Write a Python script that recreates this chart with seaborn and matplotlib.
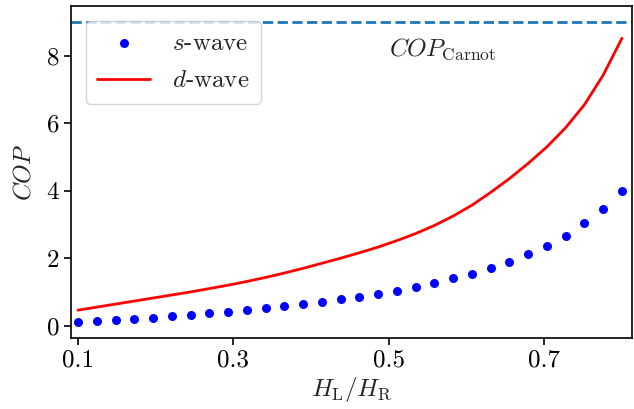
import numpy as np
import pandas as pd
import matplotlib
matplotlib.use("Agg")
import matplotlib.pyplot as plt
import seaborn as sns

# ---- data ----
ratio = [0.1000, 0.1241, 0.1483, 0.1724, 0.1966, 0.2207, 0.2448, 0.2690, 0.2931, 0.3172,
         0.3414, 0.3655, 0.3897, 0.4138, 0.4379, 0.4621, 0.4862, 0.5103, 0.5345, 0.5586,
         0.5828, 0.6069, 0.6310, 0.6552, 0.6793, 0.7034, 0.7276, 0.7517, 0.7759, 0.8000]
cop_s = [0.11, 0.14, 0.17, 0.21, 0.24, 0.28, 0.32, 0.37, 0.41, 0.46,
         0.52, 0.58, 0.64, 0.70, 0.78, 0.86, 0.95, 1.04, 1.15, 1.26,
         1.40, 1.54, 1.71, 1.90, 2.12, 2.37, 2.67, 3.03, 3.47, 4.00]
cop_d = [0.46, 0.55, 0.64, 0.73, 0.82, 0.91, 1.00, 1.10, 1.20, 1.31,
         1.43, 1.56, 1.70, 1.85, 2.00, 2.16, 2.33, 2.52, 2.73, 2.97,
         3.25, 3.57, 3.95, 4.36, 4.81, 5.30, 5.87, 6.55, 7.43, 8.52]
cop_carnot = 9.0
xticks = [0.1, 0.3, 0.5, 0.7]
yticks = [0, 2, 4, 6, 8]

df = pd.DataFrame({"ratio": ratio, "s": cop_s, "d": cop_d})

sns.set_style("ticks")
FS = 18
plt.rcParams.update({
    "font.family": ["cmr10", "DejaVu Sans"],
    "mathtext.fontset": "cm",
    "axes.formatter.use_mathtext": True,
    "font.size": FS,
    "axes.linewidth": 1.2,
    "xtick.major.width": 1.2,
    "ytick.major.width": 1.2,
    "xtick.major.size": 5,
    "ytick.major.size": 5,
    "xtick.color": "black",
    "ytick.color": "black",
    "axes.edgecolor": "black",
})

fig = plt.figure(figsize=(6.34, 4.09), dpi=100)
ax = fig.add_axes([0.112, 0.174, 0.885, 0.811])

ax.axhline(cop_carnot, color="#1f77b4", linestyle="--", linewidth=2)
sns.scatterplot(data=df, x="ratio", y="s", ax=ax, color="blue", s=42,
                linewidth=0, label=r"$s$-wave", zorder=3)
sns.lineplot(data=df, x="ratio", y="d", ax=ax, color="red", linewidth=2,
             label=r"$d$-wave")

ax.text(0.5, 8.2, r"$COP_{\mathrm{Carnot}}$", fontsize=FS, va="center", ha="left")

ax.set_xlim(0.091, 0.813)
ax.set_ylim(-0.36, 9.47)
ax.set_xticks(xticks)
ax.set_xticklabels([f"{t:.1f}" for t in xticks])
ax.set_yticks(yticks)
ax.set_yticklabels([str(t) for t in yticks])
ax.tick_params(labelsize=FS)
ax.set_xlabel(r"$H_{\mathrm{L}}/H_{\mathrm{R}}$", fontsize=FS, labelpad=2)
ax.set_ylabel(r"$COP$", fontsize=FS, labelpad=8)

leg = ax.legend(loc="upper left", fontsize=FS, frameon=True, fancybox=True,
                handlelength=2.1, borderpad=0.45, labelspacing=0.6,
                handletextpad=0.9, borderaxespad=0.6)
leg.get_frame().set_edgecolor("#cccccc")

fig.savefig("out.png", dpi=100)
